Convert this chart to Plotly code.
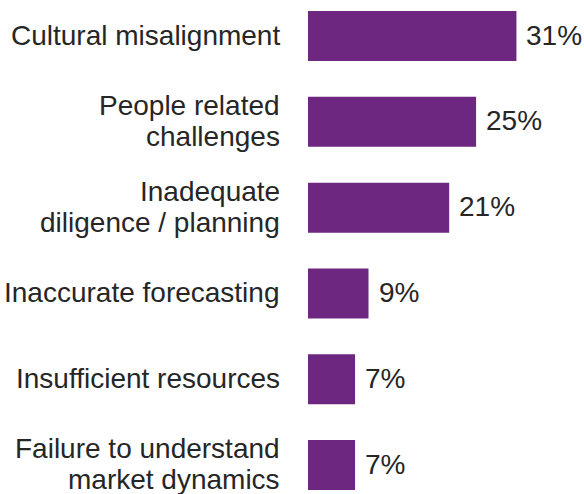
import plotly.graph_objects as go

categories = [
    "Cultural misalignment",
    "People related<br>challenges",
    "Inadequate<br>diligence / planning",
    "Inaccurate forecasting",
    "Insufficient resources",
    "Failure to understand<br>market dynamics",
]
values = [31, 25, 21, 9, 7, 7]

BAR_COLOR = "#6E2780"
TEXT_COLOR = "#262626"
FONT = "Liberation Sans, Arial, sans-serif"
FONT_SIZE = 28
LINE_GAP = 31

idx = list(range(len(categories)))

fig = go.Figure(
    go.Bar(
        x=values,
        y=idx,
        orientation="h",
        marker=dict(color=BAR_COLOR, line=dict(width=0)),
        width=0.583,
        hoverinfo="skip",
    )
)

annotations = []
# value labels to the right of each bar
for i, v in zip(idx, values):
    annotations.append(dict(
        x=v, y=i, xref="x", yref="y", text=f"{v}%", showarrow=False,
        xanchor="left", yanchor="middle", xshift=8, yshift=1,
        font=dict(family=FONT, size=FONT_SIZE, color=TEXT_COLOR),
    ))
# category labels, right-aligned left of the bars
for i, cat in zip(idx, categories):
    lines = cat.split("<br>")
    n = len(lines)
    for k, line in enumerate(lines):
        offset = ((n - 1) / 2 - k) * LINE_GAP
        annotations.append(dict(
            x=0, y=i, xref="paper", yref="y", text=line, showarrow=False,
            xanchor="right", yanchor="middle", xshift=-26, yshift=offset + 1,
            font=dict(family=FONT, size=FONT_SIZE, color=TEXT_COLOR),
        ))

fig.update_layout(
    width=584, height=494,
    margin=dict(l=308, r=0, t=0, b=0),
    paper_bgcolor="white", plot_bgcolor="white",
    showlegend=False,
    xaxis=dict(range=[0, 41.05], visible=False, fixedrange=True),
    yaxis=dict(range=[5.337, -0.42], visible=False, fixedrange=True),
    annotations=annotations,
)

fig.write_html("out.html")
